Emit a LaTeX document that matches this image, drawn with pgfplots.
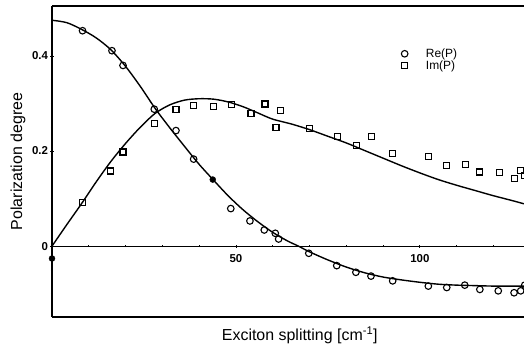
\documentclass[border=0pt]{standalone}
\usepackage{fontspec}
\setmainfont{Liberation Sans}
\usepackage{pgfplots}
\pgfplotsset{compat=1.18}
\begin{document}
\begin{tikzpicture}
\begin{axis}[
  scale only axis, width=472bp, height=311bp,
  xmin=0, xmax=128.3, ymin=-0.149, ymax=0.505,
  clip=false,
  axis x line=middle, axis y line=left,
  x axis line style={-, line width=1.2pt},
  y axis line style={-, line width=1.2pt},
  hide obscured y ticks=false, hide obscured x ticks=false,
  xtick={50,100}, minor xtick={10,20,30,40,60,70,80,90,110,120},
  ytick={0,0.2,0.4}, minor ytick={-0.1,-0.05,0.05,0.1,0.15,0.25,0.3,0.35,0.45},
  tick style={black, line width=0.8pt},
  major tick length=3bp, minor tick length=2bp,
  /pgf/number format/assume math mode=true,
  xticklabel style={font=\bfseries\fontsize{11.5}{13}\selectfont, anchor=north, yshift=-3bp},
  yticklabel style={font=\bfseries\fontsize{11.5}{13}\selectfont, anchor=east, xshift=1bp},
  every axis x label/.style={at={(rel axis cs:0.525,0)}, anchor=center, yshift=-18bp, font=\fontsize{16}{18}\selectfont},
  every axis y label/.style={at={(rel axis cs:0,0.5)}, xshift=-34bp, rotate=90, anchor=center, font=\fontsize{16}{18}\selectfont},
  xlabel={Exciton splitting [cm\textsuperscript{-1}]},
  ylabel={Polarization degree},
  legend style={at={(axis cs:94.1,0.424)}, anchor=north west, draw=none, fill=none,
    font=\fontsize{12}{13}\selectfont, row sep=-2bp},
  legend cell align=left,
  /tikz/every odd column/.append style={column sep=16bp},
]
% Re(P) fit curve
\addplot[black, line width=1.4pt, smooth, forget plot] coordinates {
(0,0.475) (4,0.470) (8,0.456) (12,0.438) (16,0.413) (20,0.378) (24,0.336)
(28,0.290) (32,0.249) (36,0.210) (40,0.172) (44,0.138) (48,0.105) (52,0.076)
(56,0.051) (60,0.029) (64,0.011) (67,0.000) (70,-0.012) (75,-0.029) (80,-0.044)
(85,-0.056) (90,-0.065) (95,-0.071) (100,-0.076) (105,-0.080) (110,-0.082)
(115,-0.083) (120,-0.084) (128.3,-0.084)};
% Im(P) fit curve
\addplot[black, line width=1.4pt, smooth, forget plot] coordinates {
(0,0.000) (4,0.045) (8,0.089) (12,0.135) (16,0.178) (20,0.216) (24,0.250)
(28,0.279) (32,0.297) (36,0.307) (40,0.310) (44,0.309) (48,0.303) (52,0.293)
(56,0.280) (60,0.267) (65,0.257) (70,0.245) (75,0.231) (80,0.217) (85,0.201)
(90,0.185) (95,0.169) (100,0.154) (105,0.140) (110,0.128) (115,0.117)
(120,0.106) (125,0.096) (128.3,0.089)};
% Re(P) data
\addplot[only marks, mark=o, mark size=3.3bp, mark options={line width=1.1pt, black}] coordinates {
(8.3,0.453) (16.3,0.411) (19.3,0.380) (27.8,0.288) (33.7,0.243) (38.5,0.183)
(48.6,0.079) (53.8,0.053) (57.7,0.034) (60.7,0.027) (61.6,0.015) (69.8,-0.015)
(77.4,-0.041) (82.6,-0.055) (86.7,-0.063) (92.6,-0.073) (102.3,-0.084)
(107.3,-0.087) (112.2,-0.082) (116.3,-0.091) (121.3,-0.094) (125.6,-0.098)
(127.4,-0.094) (128.5,-0.082)};
\addlegendentry{Re(P)}
% Im(P) data
\addplot[only marks, mark=square, mark size=3bp, mark options={line width=1.1pt, black}] coordinates {
(8.2,0.091) (16.0,0.158) (19.3,0.198) (27.8,0.257) (33.7,0.288) (38.5,0.295)
(43.8,0.293) (48.9,0.298) (54.1,0.279) (57.9,0.299) (60.9,0.250) (62.0,0.285)
(69.9,0.248) (77.6,0.230) (82.8,0.211) (86.9,0.230) (92.6,0.195) (102.3,0.189)
(107.3,0.170) (112.3,0.171) (116.3,0.156) (121.7,0.155) (125.8,0.142)
(127.4,0.160) (128.5,0.149)};
\addlegendentry{Im(P)}
% filled points
\addplot[only marks, mark=*, mark size=3bp, black, forget plot] coordinates {(0,-0.026) (43.7,0.140)};
% top and bottom frame lines
\draw[line width=1.2pt] (rel axis cs:0,1) -- (rel axis cs:1.05,1);
\draw[line width=1.2pt] (rel axis cs:0,0) -- (rel axis cs:1.05,0);
\end{axis}
\pgfresetboundingbox
\useasboundingbox (-52bp,-29bp) rectangle (472bp,317bp);
\end{tikzpicture}
\end{document}
